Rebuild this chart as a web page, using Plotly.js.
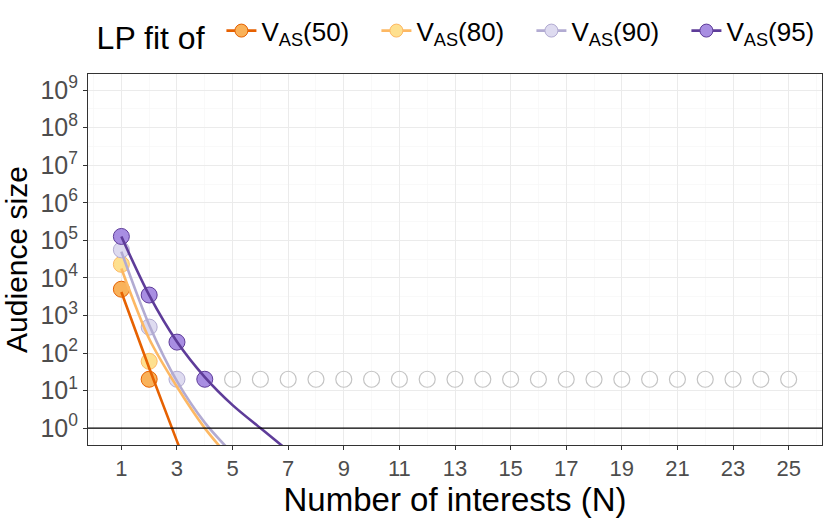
<!DOCTYPE html>
<html>
<head>
<meta charset="utf-8">
<script src="https://cdn.plot.ly/plotly-3.0.1.min.js"></script>
<style>
  html, body { margin: 0; padding: 0; background: #fff; }
  #chart { width: 830px; height: 519px; }
</style>
</head>
<body>
<div id="chart"></div>
<script>
// observed audience sizes per number of interests
const seriesNames = ["V<sub>AS</sub>(50)", "V<sub>AS</sub>(80)", "V<sub>AS</sub>(90)", "V<sub>AS</sub>(95)"];
const obsN = [1, 2, 3, 4];
const obs50 = [5000, 20];
const obs80 = [23000, 60];
const obs90 = [56000, 490, 20];
const obs95 = [127000, 3500, 195, 20];

// points that sit on the floor value
const floorN = [5, 6, 7, 8, 9, 10, 11, 12, 13, 14, 15, 16, 17, 18, 19, 20, 21, 22, 23, 24, 25];
const floorVal = [20, 20, 20, 20, 20, 20, 20, 20, 20, 20, 20, 20, 20, 20, 20, 20, 20, 20, 20, 20, 20];

// LP fit curves
const fitN50 = [1, 2, 3, 3.5];
const fit50 = [4200, 40, 0.45, 0.05];
const fitN80 = [1, 2, 3, 4, 5];
const fit80 = [17800, 240, 12.6, 1.0, 0.13];
const fitN90 = [1, 2, 3, 4, 5];
const fit90 = [50000, 560, 17.8, 1.4, 0.21];
const fitN95 = [1, 2, 3, 4, 5, 6, 7];
const fit95 = [126000, 3470, 200, 22.9, 4.1, 1.0, 0.25];

const xTicks = [1, 3, 5, 7, 9, 11, 13, 15, 17, 19, 21, 23, 25];
const xMinor = [0, 2, 4, 6, 8, 10, 12, 14, 16, 18, 20, 22, 24, 26];
const yExp = [0, 1, 2, 3, 4, 5, 6, 7, 8, 9];

const lineCols = ["#e66101", "#fdb863", "#b2abd2", "#5e3c99"];
const fillCols = ["#f9b25a", "#fee08f", "#dedbf0", "#a88ee2"];

const obs = [obs50, obs80, obs90, obs95];
const fitN = [fitN50, fitN80, fitN90, fitN95];
const fits = [fit50, fit80, fit90, fit95];

const traces = [];

traces.push({
    x: floorN, y: floorVal, mode: "markers", type: "scatter", showlegend: false,
    marker: { size: 16, color: "rgba(255,255,255,0)", line: { color: "#c4c4c4", width: 1.2 } },
    hoverinfo: "skip"
});

obs.forEach((ys, i) => {
    traces.push({
        x: obsN.slice(0, ys.length), y: ys, mode: "markers", type: "scatter", showlegend: false,
        marker: { size: 16, color: fillCols[i], line: { color: lineCols[i], width: 1 } }
    });
});

fits.forEach((ys, i) => {
    traces.push({
        x: fitN[i], y: ys, mode: "lines", type: "scatter", showlegend: false,
        line: { color: lineCols[i], width: 2.6, shape: "spline", smoothing: 0.8 }
    });
});

// legend entries
seriesNames.forEach((name, i) => {
    traces.push({
        x: [null], y: [null], mode: "lines+markers", type: "scatter", name: name,
        line: { color: lineCols[i], width: 2.6 },
        marker: { size: 13, color: fillCols[i], line: { color: lineCols[i], width: 1 } }
    });
});

const layout = {
    width: 830,
    height: 519,
    font: { family: "Liberation Sans, Arial, sans-serif", color: "#000" },
    paper_bgcolor: "#fff",
    plot_bgcolor: "#fff",
    margin: { l: 88, r: 8, t: 74, b: 74, autoexpand: false },
    showlegend: true,
    legend: {
        orientation: "h",
        x: 0.009, xanchor: "left",
        y: 1.11, yanchor: "middle",
        font: { size: 26 },
        title: { text: "LP fit of ", side: "left", font: { size: 32 } },
        itemwidth: 30,
        entrywidth: 110,
        entrywidthmode: "pixels",
        tracegroupgap: 0
    },
    xaxis: {
        title: { text: "Number of interests (N)", font: { size: 33 }, standoff: 4 },
        range: [-0.2, 26.2],
        tickmode: "array",
        tickvals: xTicks,
        ticktext: xTicks.map(String),
        tickfont: { size: 22, color: "#4d4d4d" },
        ticks: "outside", ticklen: 4, tickcolor: "#333",
        showgrid: true, gridcolor: "#ebebeb", gridwidth: 1,
        minor: { tickmode: "array", tickvals: xMinor, showgrid: true, gridcolor: "#f5f5f5", gridwidth: 0.6, ticklen: 0 },
        zeroline: false,
        showline: true, linecolor: "#333", linewidth: 1, mirror: true
    },
    yaxis: {
        title: { text: "Audience size", font: { size: 30 }, standoff: 8 },
        type: "log",
        range: [-0.45, 9.43],
        tickmode: "array",
        tickvals: yExp.map(e => Math.pow(10, e)),
        ticktext: yExp.map(e => "10<sup>" + e + "</sup>"),
        tickfont: { size: 25, color: "#4d4d4d" },
        ticks: "outside", ticklen: 4, tickcolor: "#333",
        showgrid: true, gridcolor: "#ebebeb", gridwidth: 1,
        minor: {
            tickmode: "array",
            tickvals: yExp.map(e => Math.pow(10, e + 0.5)).concat([Math.pow(10, -0.5)]),
            showgrid: true, gridcolor: "#f5f5f5", gridwidth: 0.6, ticklen: 0
        },
        zeroline: false,
        showline: true, linecolor: "#333", linewidth: 1, mirror: true
    },
    shapes: [
        { type: "line", xref: "paper", x0: 0, x1: 1, yref: "y", y0: 1, y1: 1, line: { color: "#000", width: 1.2 } }
    ]
};

Plotly.newPlot("chart", traces, layout, { displayModeBar: false, staticPlot: true });
</script>
</body>
</html>
